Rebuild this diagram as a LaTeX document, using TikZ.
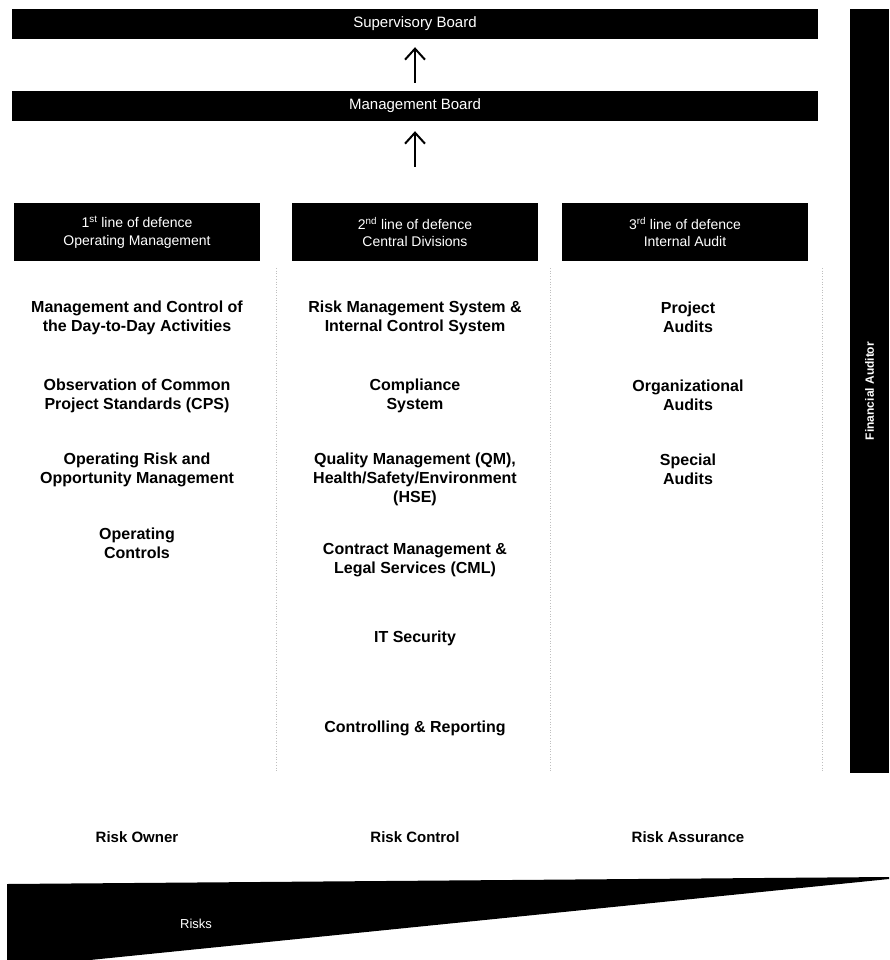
\documentclass[tikz,border=0pt]{standalone}
\usepackage{fontspec}
\setmainfont{Liberation Sans}
\usetikzlibrary{arrows.meta}
\begin{document}
\begin{tikzpicture}[x=1pt,y=-1pt,
  board/.style={fill=black, draw=none, text=white, minimum width=806pt, minimum height=30pt, inner sep=0pt, font=\fontsize{15}{18}\selectfont},
  hdr/.style={fill=black, draw=none, text=white, align=center, minimum width=246pt, minimum height=58pt, inner sep=0pt, font=\fontsize{14}{17.5}\selectfont},
  item/.style={align=center, font=\bfseries\fontsize{16}{19}\selectfont, inner sep=0pt},
  risklabel/.style={font=\bfseries\fontsize{15}{18}\selectfont, inner sep=0pt},
  uparrow/.style={-{Straight Barb[length=11pt,width=20pt]}, line width=2pt},
  sep/.style={draw=black!25, dotted, line width=0.7pt}
]
\useasboundingbox (0,0) rectangle (889,960);
\fill[white] (0,0) rectangle (889,960);

% boards
\node[board] (sup) at (415,24) {Supervisory Board};
\node[board] (mgmt) at (415,106) {Management Board};

% column headers
\node[hdr] (h1) at (137,232) {1\textsuperscript{st} line of defence\\Operating Management};
\node[hdr] (h2) at (415,232) {2\textsuperscript{nd} line of defence\\Central Divisions};
\node[hdr] (h3) at (685,232) {3\textsuperscript{rd} line of defence\\Internal Audit};

% arrows
\draw[uparrow, shorten <=8pt, shorten >=8pt] (mgmt.north) -- (sup.south);
\draw[uparrow, shorten <=36pt, shorten >=10pt] (h2.north) -- (mgmt.south);

% faint separators
\draw[sep] (276,268) -- (276,772);
\draw[sep] (550,268) -- (550,772);
\draw[sep] (822,268) -- (822,772);

% column 1
\node[item] (a1) at (137,317.5) {Management and Control of\\the Day-to-Day Activities};
\node[item] (a2) at (137,395.5) {Observation of Common\\Project Standards (CPS)};
\node[item] (a3) at (137,469.5) {Operating Risk and\\Opportunity Management};
\node[item] (a4) at (137,543.5) {Operating\\Controls};

% column 2
\node[item] (b1) at (415,317.5) {Risk Management System \&\\Internal Control System};
\node[item] (b2) at (415,395.5) {Compliance\\System};
\node[item] (b3) at (415,479) {Quality Management (QM),\\Health/Safety/Environment\\(HSE)};
\node[item] (b4) at (415,560.5) {Contract Management \&\\Legal Services (CML)};
\node[item] (b5) at (415,638) {IT Security};
\node[item] (b6) at (415,728) {Controlling \& Reporting};

% column 3
\node[item] (c1) at (688,317.5) {Project\\Audits};
\node[item] (c2) at (688,395.5) {Organizational\\Audits};
\node[item] (c3) at (688,469.5) {Special\\Audits};

% bottom labels
\node[risklabel] (r1) at (137,837) {Risk Owner};
\node[risklabel] (r2) at (415,837) {Risk Control};
\node[risklabel] (r3) at (688,837) {Risk Assurance};

% financial auditor bar
\node[fill=black, draw=none, rotate=90, minimum width=764pt, minimum height=39pt, inner sep=0pt, text=white, font=\bfseries\fontsize{12}{14}\selectfont] (fa) at (869.5,391) {Financial Auditor};

% risks wedge
\fill[black] (7,884) -- (889,877) -- (889,879) -- (90,960) -- (7,960) -- cycle;
\node[text=white, font=\fontsize{13}{15}\selectfont, inner sep=0pt] (risks) at (196,924) {Risks};
\end{tikzpicture}
\end{document}
